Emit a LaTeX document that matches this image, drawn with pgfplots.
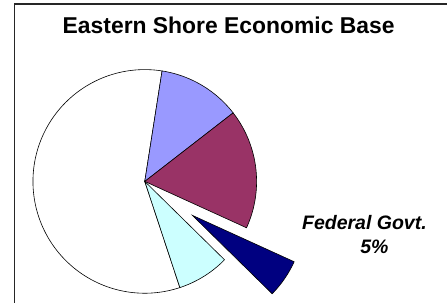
\documentclass[border=0pt]{standalone}
\usepackage{pgfplots}
\pgfplotsset{compat=1.18}
\usepackage{fontspec}
\setmainfont{Liberation Sans}
\definecolor{sliceA}{HTML}{9999FF}
\definecolor{sliceB}{HTML}{993366}
\definecolor{sliceC}{HTML}{000080}
\definecolor{sliceD}{HTML}{CCFFFF}
\begin{document}
\begin{tikzpicture}
\begin{axis}[width=448bp,height=303bp,scale only axis,
  xmin=-145,xmax=303,ymin=-121.3,ymax=181.7,hide axis,clip=false]
\path (axis cs:-145,-121.3) rectangle (axis cs:303,181.7);
\draw[line width=1.4bp, black!85] (axis cs:-130.5,-121.3) -- (axis cs:-130.5,177.7) -- (axis cs:303,177.7);
% slices: shares 57.5, 12.0, 17.3, 5.6, 7.6 (percent), start angle 81.1, clockwise
\addplot[fill=white, draw=black, line width=0.6bp, data cs=polar, domain=-278.9:-71.7, samples=120] (x,112) -- (axis cs:0,0) -- cycle;
\addplot[fill=sliceA, draw=black, line width=0.6bp, data cs=polar, domain=37.8:81.1, samples=40] (x,112) -- (axis cs:0,0) -- cycle;
\addplot[fill=sliceB, draw=black, line width=0.6bp, data cs=polar, domain=-24.5:37.8, samples=50] (x,112) -- (axis cs:0,0) -- cycle;
\addplot[fill=sliceD, draw=black, line width=0.6bp, data cs=polar, domain=-71.7:-44.5, samples=30] (x,112) -- (axis cs:0,0) -- cycle;
\addplot[fill=sliceC, draw=black, line width=0.6bp, data cs=polar, domain=-44.5:-24.5, samples=30, xshift=47.7bp, yshift=-34bp] (x,112) -- (axis cs:0,0) -- cycle;
\node[anchor=base, font=\fontsize{23}{27}\selectfont\bfseries] at (axis cs:84,148.4) {Eastern Shore Economic Base};
\node[anchor=base, font=\fontsize{19.6}{23}\selectfont\bfseries\itshape] at (axis cs:220,-48.3) {Federal Govt.};
\node[anchor=base, font=\fontsize{19.6}{23}\selectfont\bfseries\itshape] at (axis cs:230,-72.3) {5\%};
\end{axis}
\end{tikzpicture}
\end{document}
